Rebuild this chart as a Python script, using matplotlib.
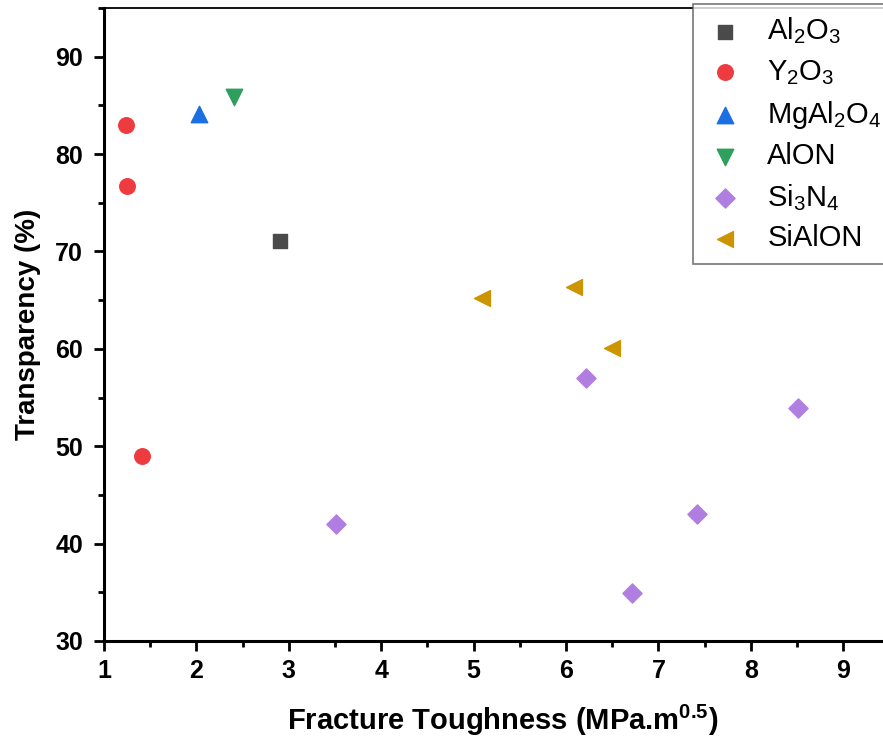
import matplotlib
matplotlib.use("Agg")
import matplotlib.pyplot as plt
from matplotlib.ticker import MultipleLocator

# data
al2o3_x = [2.9]
al2o3_y = [71.1]
y2o3_x = [1.24, 1.25, 1.41]
y2o3_y = [83.0, 76.7, 49.0]
mgal2o4_x = [2.03]
mgal2o4_y = [84.1]
alon_x = [2.41]
alon_y = [85.9]
si3n4_x = [3.51, 6.22, 6.71, 7.42, 8.51]
si3n4_y = [42.0, 57.0, 34.9, 43.0, 53.9]
sialon_x = [5.09, 6.09, 6.5]
sialon_y = [65.2, 66.4, 60.1]

plt.rcParams['font.family'] = ['Liberation Sans', 'DejaVu Sans']
plt.rcParams['mathtext.default'] = 'regular'

fig = plt.figure(figsize=(8.83, 7.53), dpi=100)
ax = fig.add_axes([104/883, 112/753, (883*1.02-104)/883, (641-8)/753])

ax.scatter(al2o3_x, al2o3_y, marker='s', s=95, color='#4a4a4a', label=r'Al$_2$O$_3$', zorder=3)
ax.scatter(y2o3_x, y2o3_y, marker='o', s=125, color='#ee3b3f', label=r'Y$_2$O$_3$', zorder=3)
ax.scatter(mgal2o4_x, mgal2o4_y, marker='^', s=140, color='#1a6fe3', label=r'MgAl$_2$O$_4$', zorder=3)
ax.scatter(alon_x, alon_y, marker='v', s=140, color='#2e9f5c', label='AlON', zorder=3)
ax.scatter(si3n4_x, si3n4_y, marker='D', s=95, color='#b07ee0', label=r'Si$_3$N$_4$', zorder=3)
ax.scatter(sialon_x, sialon_y, marker='<', s=130, color='#cc9500', label='SiAlON', zorder=3)

# the axes run past the right edge of the figure, as in the reference
xmax = 1 + (883*1.02 - 104) / 92.4
ax.set_xlim(1, xmax)
ax.set_ylim(30, 95)
ax.xaxis.set_major_locator(MultipleLocator(1))
ax.xaxis.set_minor_locator(MultipleLocator(0.5))
ax.yaxis.set_major_locator(MultipleLocator(10))
ax.yaxis.set_minor_locator(MultipleLocator(5))

for side in ['left', 'bottom']:
    ax.spines[side].set_linewidth(2.2)
ax.spines['top'].set_linewidth(1.3)
ax.spines['right'].set_linewidth(1.3)

ax.tick_params(which='major', direction='out', length=7, width=2, labelsize=18)
ax.tick_params(axis='y', which='major', pad=8)
ax.tick_params(axis='x', which='major', pad=6)
ax.tick_params(which='minor', direction='out', length=4.5, width=2)
for lab in ax.get_xticklabels() + ax.get_yticklabels():
    lab.set_fontweight('bold')

ax.set_xlabel(r'Fracture Toughness (MPa.m$^{0.5}$)', fontsize=21, fontweight='bold', labelpad=14)
ax.set_ylabel('Transparency (%)', fontsize=20, fontweight='bold', labelpad=10)

leg = ax.legend(loc='upper left', bbox_to_anchor=(693/883, 1-4/753), bbox_transform=fig.transFigure,
                prop={'size': 21}, frameon=True, fancybox=False, edgecolor='#555555',
                handlelength=1.4, handletextpad=0.75, labelspacing=0.4, borderpad=0.4,
                borderaxespad=0, scatterpoints=1)
leg.get_frame().set_linewidth(1.2)

fig.savefig('out.png', dpi=100)
